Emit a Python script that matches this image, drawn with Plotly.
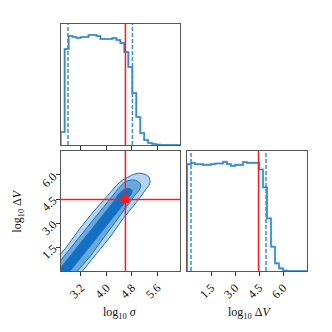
import numpy as np
import plotly.graph_objects as go

# axis ranges and binning of the corner plot
sigma_range = [2.56, 6.32]
dv_range = [0.0, 7.5]
n_bins = 30

# 1D histograms (heights)
sigma_counts = [13, 96, 109, 108, 107, 108, 108, 110, 110, 109,
                106, 106, 106, 107, 105, 102, 93, 78, 52, 28,
                12, 5, 2, 1, 0.3, 0, 0, 0, 0, 0]
dv_counts = [107, 108.3, 107, 107, 106.3, 106.3, 107, 107.7, 107.7, 109.3,
             107, 105.3, 106.3, 106.3, 109, 108.3, 108.3, 108.3, 101.7, 83.7,
             52.7, 24.3, 7.7, 2.7, 0.3, 0, 0, 0, 0, 0]

# truth values and quantiles
sigma_true = 4.60
dv_true = 4.47
sigma_quantiles = [2.79, 4.82]
dv_quantiles = [0.25, 4.94]

# 2D credible-region outlines (log10 sigma, log10 dV)
outer_sigma = [1.62, 2.75, 3.17, 3.59, 4.01, 4.33, 4.51, 4.69, 4.84, 5.01, 5.14,
               5.27, 5.35, 5.38, 5.35, 5.27, 4.96, 4.53, 4.12, 3.70, 2.76]
outer_dv = [-1.19, 1.52, 2.67, 3.71, 4.64, 5.38, 5.69, 5.89, 6.03, 6.11, 6.09,
            6.00, 5.84, 5.58, 5.38, 5.17, 4.33, 3.29, 2.14, 1.11, -1.19]
mid_sigma = [1.81, 2.90, 3.38, 3.80, 4.22, 4.38, 4.53, 4.67, 4.80, 4.92,
             5.01, 5.07, 5.08, 5.03, 4.90, 4.64, 4.33, 3.90, 3.48, 2.57]
mid_dv = [-1.19, 1.52, 2.67, 3.71, 4.75, 5.16, 5.48, 5.64, 5.69, 5.67,
          5.58, 5.44, 5.27, 5.03, 4.75, 4.02, 3.19, 2.04, 0.89, -1.19]
inner_sigma = [2.00, 3.26, 4.27, 4.35, 4.45, 4.56, 4.67, 4.76, 4.81, 4.80,
               4.77, 4.65, 3.64, 2.38]
inner_dv = [-1.19, 1.94, 4.44, 4.72, 4.94, 5.09, 5.17, 5.14, 5.03, 4.84,
            4.75, 4.44, 1.94, -1.19]

sigma_ticks = [3.2, 4.0, 4.8, 5.6]
dv_ticks = [1.5, 3.0, 4.5, 6.0]

FONT = "Liberation Serif"
LINE_BLUE = "#1f73bf"
LIGHT_BLUE = "#6fb2e4"
RED = "#ff1a1a"


def step_xy(rng, counts):
    edges = np.linspace(rng[0], rng[1], len(counts) + 1)
    x = [edges[0]] + list(edges)
    y = [0] + list(counts) + [counts[-1]]
    return x, y


fig = go.Figure()

# top-left: sigma histogram
sx, sy = step_xy(sigma_range, sigma_counts)
fig.add_trace(go.Scatter(x=sx, y=sy, mode="lines", line_shape="hv",
                         line=dict(color=LIGHT_BLUE, width=2.2), xaxis="x", yaxis="y"))
fig.add_trace(go.Scatter(x=sx, y=sy, mode="lines", line_shape="hv",
                         line=dict(color=LINE_BLUE, width=0.8), xaxis="x", yaxis="y"))

# bottom-right: dV histogram
dx, dy = step_xy(dv_range, dv_counts)
fig.add_trace(go.Scatter(x=dx, y=dy, mode="lines", line_shape="hv",
                         line=dict(color=LIGHT_BLUE, width=2.2), xaxis="x3", yaxis="y3"))
fig.add_trace(go.Scatter(x=dx, y=dy, mode="lines", line_shape="hv",
                         line=dict(color=LINE_BLUE, width=0.8), xaxis="x3", yaxis="y3"))

# bottom-left: 2D contours
for xs, ys, col in [(outer_sigma, outer_dv, "#b3d3ee"),
                    (mid_sigma, mid_dv, "#6aa8de"),
                    (inner_sigma, inner_dv, "#1170c4")]:
    fig.add_trace(go.Scatter(x=xs, y=ys, mode="lines", fill="toself", fillcolor=col,
                             line=dict(color=LINE_BLUE, width=1),
                             xaxis="x2", yaxis="y2"))

fig.add_trace(go.Scatter(x=[sigma_true], y=[dv_true], mode="markers",
                         marker=dict(symbol="square", size=7, color=RED),
                         xaxis="x2", yaxis="y2"))

shapes = []
# truth lines
shapes.append(dict(type="line", xref="x", yref="y domain", x0=sigma_true, x1=sigma_true,
                   y0=0, y1=1, line=dict(color=RED, width=1.5)))
shapes.append(dict(type="line", xref="x2", yref="y2 domain", x0=sigma_true, x1=sigma_true,
                   y0=0, y1=1, line=dict(color=RED, width=1.5)))
shapes.append(dict(type="line", xref="x2 domain", yref="y2", x0=0, x1=1,
                   y0=dv_true, y1=dv_true, line=dict(color=RED, width=1.5)))
shapes.append(dict(type="line", xref="x3", yref="y3 domain", x0=dv_true, x1=dv_true,
                   y0=0, y1=1, line=dict(color=RED, width=1.5)))
# quantile lines
for q in sigma_quantiles:
    shapes.append(dict(type="line", xref="x", yref="y domain", x0=q, x1=q, y0=0, y1=1,
                       line=dict(color="#3b8fd6", width=1.5, dash="4px,2px")))
for q in dv_quantiles:
    shapes.append(dict(type="line", xref="x3", yref="y3 domain", x0=q, x1=q, y0=0, y1=1,
                       line=dict(color="#3b8fd6", width=1.5, dash="4px,2px")))

frame = dict(showline=True, linecolor="#555", linewidth=1.2, mirror=True,
             showgrid=False, zeroline=False, ticklen=4, tickcolor="#333",
             automargin=False,
             tickfont=dict(family=FONT, size=12, color="#111"))

xd1 = [0.1828, 0.5422]
xd2 = [0.5633, 0.9247]
yd_top = [0.5633, 0.9277]
yd_bot = [0.1837, 0.5452]

title_font = dict(family=FONT, size=12, color="#111")

fig.update_layout(
    width=332, height=332,
    margin=dict(l=0, r=0, t=0, b=0, autoexpand=False),
    paper_bgcolor="white", plot_bgcolor="white",
    showlegend=False,
    shapes=shapes,
    xaxis=dict(domain=xd1, anchor="y", range=sigma_range, tickvals=sigma_ticks,
               showticklabels=False, ticks="outside", **frame),
    yaxis=dict(domain=yd_top, anchor="x", range=[0, 1.1 * max(sigma_counts)],
               showticklabels=False, ticks="", **frame),
    xaxis2=dict(domain=xd1, anchor="y2", range=sigma_range, tickvals=sigma_ticks,
                ticktext=["%.1f" % v for v in sigma_ticks], tickangle=-45,
                ticks="outside", **frame),
    yaxis2=dict(domain=yd_bot, anchor="x2", range=dv_range, tickvals=dv_ticks,
                ticktext=["%.1f" % v for v in dv_ticks], tickangle=-45,
                ticks="outside", **frame),
    xaxis3=dict(domain=xd2, anchor="y3", range=dv_range, tickvals=dv_ticks,
                ticktext=["%.1f" % v for v in dv_ticks], tickangle=-45,
                ticks="outside", **frame),
    yaxis3=dict(domain=yd_bot, anchor="x3", range=[0, 1.1 * max(dv_counts)],
                showticklabels=False, ticks="", **frame),
    annotations=[
        dict(text="log<sub>10</sub> <i>σ</i>", x=0.361, y=0.058, xref="paper", yref="paper",
             xanchor="center", yanchor="middle", showarrow=False, font=title_font),
        dict(text="log<sub>10</sub> Δ<i>V</i>", x=0.751, y=0.058, xref="paper", yref="paper",
             xanchor="center", yanchor="middle", showarrow=False, font=title_font),
        dict(text="log<sub>10</sub> Δ<i>V</i>", x=0.0557, y=0.364, xref="paper", yref="paper",
             xanchor="center", yanchor="middle", textangle=-90, showarrow=False,
             font=title_font),
    ],
)

# drop the default page margin so the 332x332 figure fills the window
fig.write_html("out.html", config={"displayModeBar": False},
               post_script="document.body.style.margin='0';")
